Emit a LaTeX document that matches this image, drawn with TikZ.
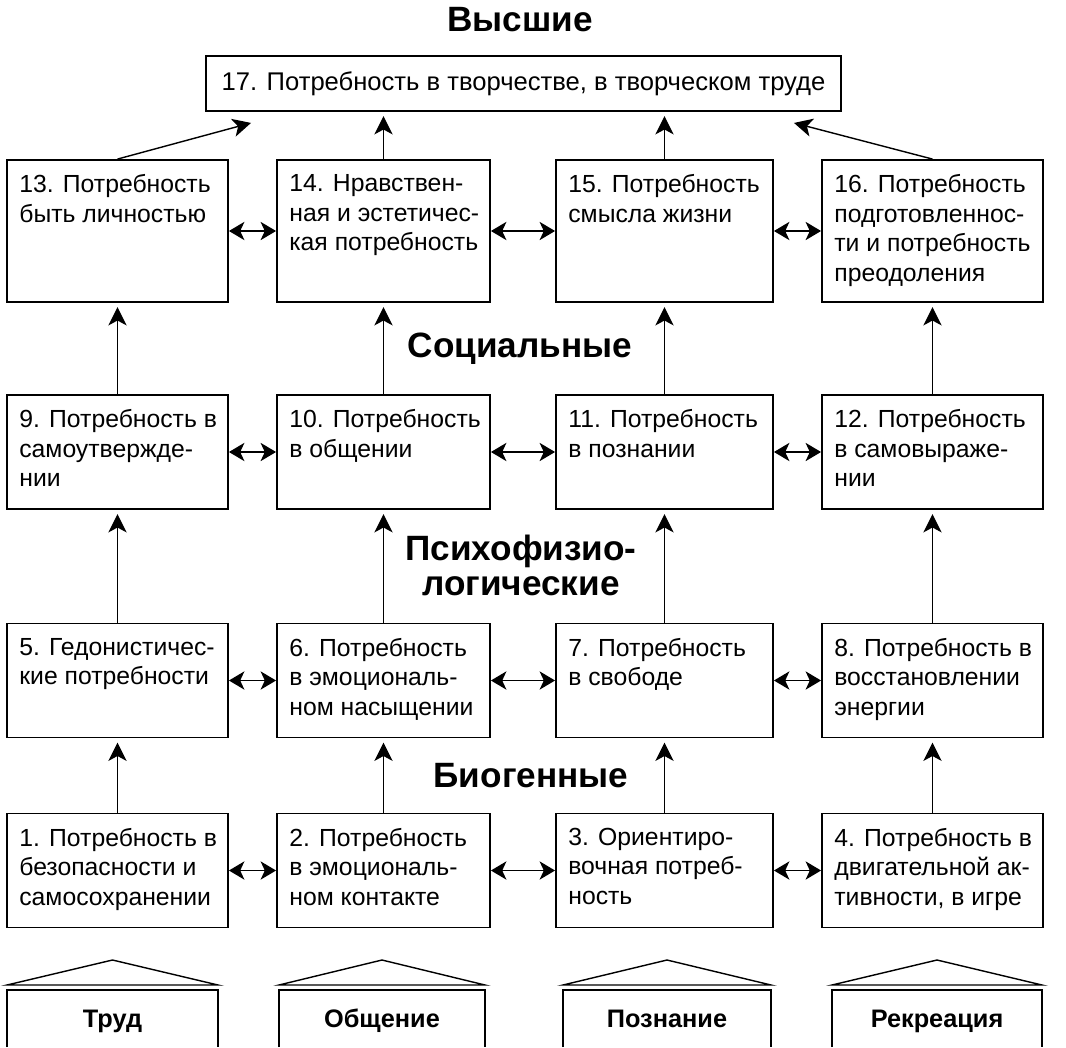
\documentclass[tikz,border=0pt]{standalone}
\usepackage{fontspec}
\setmainfont{Liberation Sans}
\usetikzlibrary{arrows.meta, calc, positioning}

\begin{document}
\begin{tikzpicture}[
      x=0.025cm, y=-0.025cm,
      box/.style={draw, line width=1.3pt, inner sep=0pt},
      colA/.style={box, minimum width=5.525cm},
      colB/.style={box, minimum width=5.325cm},
      colC/.style={box, minimum width=5.425cm},
      colD/.style={box, minimum width=5.525cm},
      hi/.style={minimum height=3.55cm},
      lo/.style={minimum height=2.85cm},
      txt/.style={anchor=north west, inner sep=0pt, align=left,
                  font=\fontsize{17.6}{21}\selectfont, execute at begin node=\strut},
      level/.style={font=\fontsize{25}{24.8}\selectfont\bfseries, align=center},
      area/.style={font=\fontsize{18}{20}\selectfont\bfseries, anchor=base},
      arr/.style={-{Stealth[length=13pt, width=13pt, inset=3.5pt]}, line width=1pt},
      both/.style={{Stealth[length=11pt, width=13pt, inset=3pt]}-{Stealth[length=11pt, width=13pt, inset=3pt]}, line width=1pt}
   ]
      \useasboundingbox (0,0) rectangle (1066,1047);

      % levels
      \node[level] (vys) at (520,20) {Высшие};
      \node[level] (soc) at (520,349) {Социальные};
      \node[level] (psy) at (521,565) {Психофизио-\\логические};
      \node[level] (bio) at (531,776) {Биогенные};

      % top
      \node[box, minimum width=15.875cm, minimum height=1.375cm, font=\fontsize{18.2}{21}\selectfont]
         (b17) at (523.5,83.5) {17. Потребность в творчестве, в творческом труде};

      \node[colA, hi] (b13) at (117.5,231) {};
      \node[colB, hi] (b14) at (383.5,231) {};
      \node[colC, hi] (b15) at (664.5,231) {};
      \node[colD, hi] (b16) at (932.5,231) {};

      \node[colA, lo] (b9)  at (117.5,452) {};
      \node[colB, lo] (b10) at (383.5,452) {};
      \node[colC, lo] (b11) at (664.5,452) {};
      \node[colD, lo] (b12) at (932.5,452) {};

      \node[colA, lo] (b5) at (117.5,680.5) {};
      \node[colB, lo] (b6) at (383.5,680.5) {};
      \node[colC, lo] (b7) at (664.5,680.5) {};
      \node[colD, lo] (b8) at (932.5,680.5) {};

      \node[colA, lo] (b1) at (117.5,870.5) {};
      \node[colB, lo] (b2) at (383.5,870.5) {};
      \node[colC, lo] (b3) at (664.5,870.5) {};
      \node[colD, lo] (b4) at (932.5,870.5) {};

      % texts
      \node[txt] at ([shift={(0.325cm,-0.38cm)}]b13.north west) {13. Потребность\\быть личностью};
      \node[txt] at ([shift={(0.325cm,-0.38cm)}]b14.north west) {14. Нравствен-\\ная и эстетичес-\\кая потребность};
      \node[txt] at ([shift={(0.325cm,-0.38cm)}]b15.north west) {15. Потребность\\смысла жизни};
      \node[txt] at ([shift={(0.325cm,-0.38cm)}]b16.north west) {16. Потребность\\подготовленнос-\\ти и потребность\\преодоления};

      \node[txt] at ([shift={(0.325cm,-0.38cm)}]b9.north west)  {9. Потребность в\\самоутвержде-\\нии};
      \node[txt] at ([shift={(0.325cm,-0.38cm)}]b10.north west) {10. Потребность\\в общении};
      \node[txt] at ([shift={(0.325cm,-0.38cm)}]b11.north west) {11. Потребность\\в познании};
      \node[txt] at ([shift={(0.325cm,-0.38cm)}]b12.north west) {12. Потребность\\в самовыраже-\\нии};

      \node[txt] at ([shift={(0.325cm,-0.38cm)}]b5.north west) {5. Гедонистичес-\\кие потребности};
      \node[txt] at ([shift={(0.325cm,-0.38cm)}]b6.north west) {6. Потребность\\в эмоциональ-\\ном насыщении};
      \node[txt] at ([shift={(0.325cm,-0.38cm)}]b7.north west) {7. Потребность\\в свободе};
      \node[txt] at ([shift={(0.325cm,-0.38cm)}]b8.north west) {8. Потребность в\\восстановлении\\энергии};

      \node[txt] at ([shift={(0.325cm,-0.38cm)}]b1.north west) {1. Потребность в\\безопасности и\\самосохранении};
      \node[txt] at ([shift={(0.325cm,-0.38cm)}]b2.north west) {2. Потребность\\в эмоциональ-\\ном контакте};
      \node[txt] at ([shift={(0.325cm,-0.38cm)}]b3.north west) {3. Ориентиро-\\вочная потреб-\\ность};
      \node[txt] at ([shift={(0.325cm,-0.38cm)}]b4.north west) {4. Потребность в\\двигательной ак-\\тивности, в игре};

      % arrows up
      \draw[arr] (b13.north) -- ([shift={(1.15cm,-0.275cm)}]b17.south west);
      \draw[arr, shorten >=3pt] (b14.north) -- (b14.north |- b17.south);
      \draw[arr, shorten >=3pt] (b15.north) -- (b15.north |- b17.south);
      \draw[arr] (b16.north) -- ([shift={(-1.2cm,-0.275cm)}]b17.south east);

      \foreach \lo/\up in {b9/b13, b10/b14, b11/b15, b12/b16,
                           b5/b9, b6/b10, b7/b11, b8/b12,
                           b1/b5, b2/b6, b3/b7, b4/b8}
         \draw[arr, shorten >=3pt] (\lo.north) -- (\up.south);

      % arrows between
      \foreach \a/\b in {b13/b14, b14/b15, b15/b16, b9/b10, b10/b11, b11/b12,
                         b5/b6, b6/b7, b7/b8, b1/b2, b2/b3, b3/b4}
         \draw[both] (\a.east) -- (\b.west);

      % spheres of activity
      \foreach \l/\r/\t/\n in {7/218/Труд/trud, 279/485/Общение/obsh,
                               563/771/Познание/pozn, 832/1042/Рекреация/rekr} {
         \draw[line width=1pt, line join=miter] (\l,985) -- ({(\l+\r)/2},960) -- (\r,985) -- cycle;
         \draw[line width=1.3pt] (\l,1047) -- (\l,990) -- (\r,990) -- (\r,1047);
         \node[area] (\n) at ({(\l+\r)/2},1027) {\t};
      }
   \end{tikzpicture}
\end{document}
